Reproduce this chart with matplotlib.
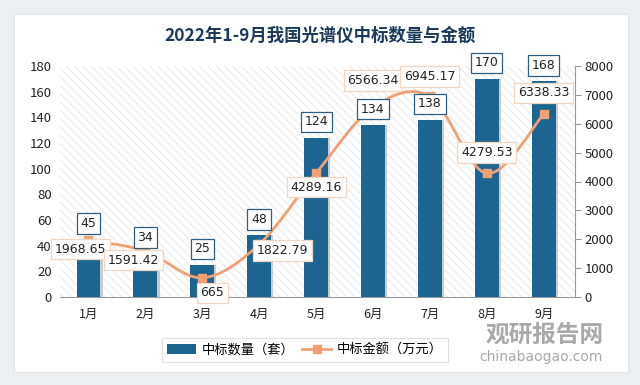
import numpy as np
import matplotlib.pyplot as plt
from matplotlib.patches import Rectangle
from matplotlib.path import Path
from matplotlib.patches import PathPatch

plt.rcParams['font.family'] = ['Noto Sans CJK SC', 'DejaVu Sans']
plt.rcParams['hatch.color'] = '#e6e6e6'
plt.rcParams['hatch.linewidth'] = 0.6

months = ['1月', '2月', '3月', '4月', '5月', '6月', '7月', '8月', '9月']
counts = [45, 34, 25, 48, 124, 134, 138, 170, 168]
amounts = [1968.65, 1591.42, 665, 1822.79, 4289.16, 6566.34, 6945.17, 4279.53, 6338.33]
amount_labels = ['1968.65', '1591.42', '665', '1822.79', '4289.16',
                 '6566.34', '6945.17', '4279.53', '6338.33']
# label offsets in pixels for the amount labels (x, y)
amount_offsets = [(-8, -9), (-12, -9), (10, -15), (23, -6), (0, -14),
                  (0, 27), (0, 20), (0, 21), (0, 21)]

bar_color = '#1c6590'
line_color = '#f0a074'

fig = plt.figure(figsize=(6.4, 3.85), dpi=100, facecolor='#eceef1')

# white card
card = Rectangle((14 / 640, 13 / 385), 614 / 640, 358 / 385, transform=fig.transFigure,
                 facecolor='white', edgecolor='#e2e4e8', linewidth=0.8, zorder=-10)
fig.patches.append(card)

ax = fig.add_axes([60 / 640, 1 - 297 / 385, 515 / 640, 231 / 385])
ax.set_facecolor('white')
ax.patch.set_hatch('\\\\\\\\')
ax.patch.set_edgecolor('#e6e6e6')
ax.patch.set_linewidth(0)

x = np.arange(len(months))
w = 0.42
# shadow
ax.bar(x + 0.04, counts, width=w, color='#c9cdd2', zorder=2)
ax.bar(x, counts, width=w, color=bar_color, zorder=3, label='中标数量（套）')

ax.set_xlim(-0.5, 8.55)
ax.set_ylim(0, 180)
ax.set_yticks(range(0, 181, 20))
ax.set_xticks(x)
ax.set_xticklabels(months)
ax.tick_params(axis='y', length=0, labelsize=9.5, colors='#222222', pad=6)
ax.tick_params(axis='x', length=0, labelsize=9, colors='#222222', pad=8)
for s in ['top', 'right', 'left']:
    ax.spines[s].set_visible(False)
ax.spines['bottom'].set_color('#9a9a9a')

ax2 = ax.twinx()
ax2.set_ylim(0, 8000)
ax2.set_yticks(range(0, 8001, 1000))
ax2.tick_params(axis='y', length=4, labelsize=9.5, colors='#222222', pad=3)
ax2.tick_params(axis='y', color='#9a9a9a')
for s in ['top', 'left', 'bottom']:
    ax2.spines[s].set_visible(False)
ax2.spines['right'].set_color('#9a9a9a')

# smooth curve through the points (Catmull-Rom as cubic Bezier)
pts = np.column_stack([x, amounts]).astype(float)
verts = [tuple(pts[0])]
codes = [Path.MOVETO]
for i in range(len(pts) - 1):
    p0 = pts[i - 1] if i > 0 else pts[i]
    p1, p2 = pts[i], pts[i + 1]
    p3 = pts[i + 2] if i + 2 < len(pts) else pts[i + 1]
    c1 = p1 + (p2 - p0) / 6
    c2 = p2 - (p3 - p1) / 6
    verts += [tuple(c1), tuple(c2), tuple(p2)]
    codes += [Path.CURVE4] * 3
ax2.add_patch(PathPatch(Path(verts, codes), fc='none', ec=line_color, lw=2, zorder=4))
ax2.plot(x, amounts, linestyle='none', marker='s', markersize=6, color=line_color, zorder=5)

# bar labels go on the top axes so they sit above the line
for xi, c in zip(x, counts):
    ax2.annotate(str(c), (xi, c), xycoords=ax.transData, xytext=(0, 16),
                 textcoords='offset pixels', ha='center', va='center', fontsize=9,
                 color='#222222', zorder=6, family=['DejaVu Sans'],
                 bbox=dict(boxstyle='square,pad=0.3', fc='white', ec='#2d5f7e', lw=0.9))

for xi, a, lab, off in zip(x, amounts, amount_labels, amount_offsets):
    ax2.annotate(lab, (xi, a), xytext=off, textcoords='offset pixels',
                 ha='center', va='center', fontsize=9, color='#222222', zorder=7,
                 family=['DejaVu Sans'],
                 bbox=dict(boxstyle='square,pad=0.3', fc='white', ec='#f3d6bf', lw=0.9))

# legend
h1, l1 = ax.get_legend_handles_labels()
line_handle = plt.Line2D([], [], color=line_color, lw=2, marker='s', markersize=6)
leg = fig.legend([h1[0], line_handle], [l1[0], '中标金额（万元）'],
                 loc='center', bbox_to_anchor=(305 / 640, 1 - 350 / 385), ncol=2,
                 frameon=True, fancybox=False, fontsize=9.5, handlelength=2.2,
                 columnspacing=0.6, handletextpad=0.4, borderpad=0.4)
leg.get_frame().set_edgecolor('#d5d8dc')
leg.get_frame().set_linewidth(0.8)

fig.text(320 / 640, 1 - 36 / 385, '2022年1-9月我国光谱仪中标数量与金额',
         ha='center', va='center', fontsize=12.5, fontweight='bold', color='#1b3a5a')

# watermark
fig.text(545 / 640, 1 - 335 / 385, '观研报告网', ha='center', va='center',
         fontsize=17, fontweight='bold', color='#9a9a9a', alpha=0.85)
fig.text(541 / 640, 1 - 357 / 385, 'chinabaogao.com', ha='center', va='center',
         fontsize=10, color='#9a9a9a', alpha=0.85, family=['DejaVu Sans'])

fig.savefig('out.png', dpi=100, facecolor=fig.get_facecolor())
